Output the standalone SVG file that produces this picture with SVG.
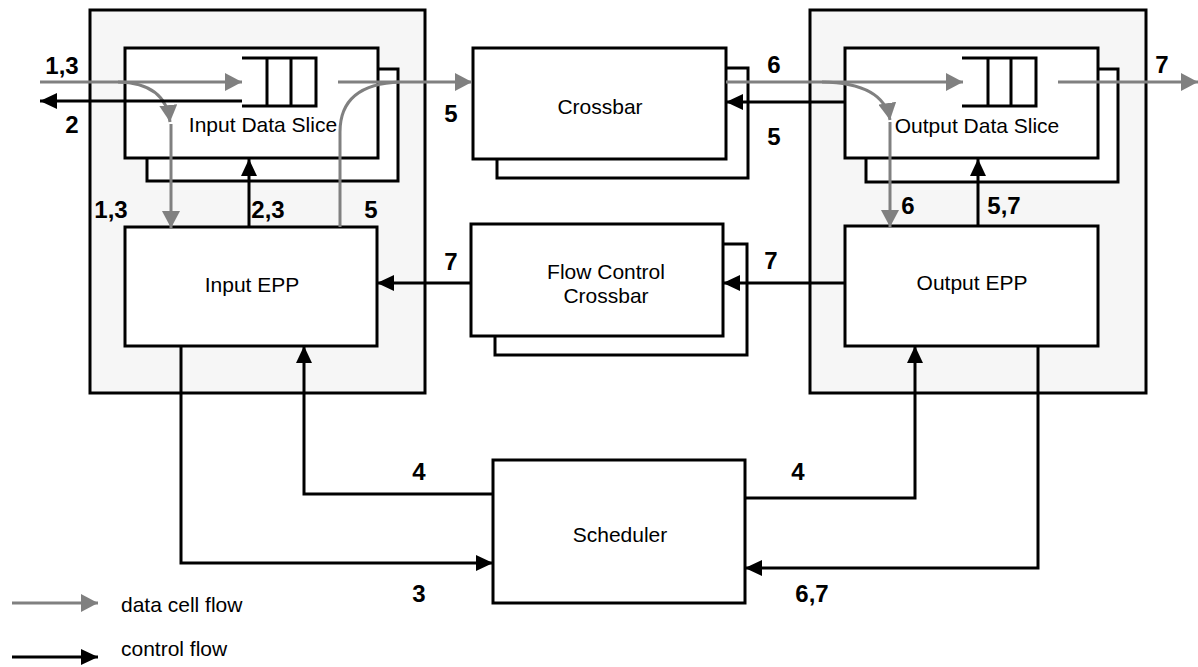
<svg xmlns="http://www.w3.org/2000/svg" width="1198" height="667" viewBox="0 0 1198 667">
<style>
.panel{fill:#f6f6f6;stroke:#000;stroke-width:3}
.box{fill:#fff;stroke:#000;stroke-width:3}
.q{fill:none;stroke:#000;stroke-width:3}
.lbl{font-family:"Liberation Sans",Arial,sans-serif;font-size:21px;fill:#000;text-anchor:middle}
.num{font-family:"Liberation Sans",Arial,sans-serif;font-size:24px;font-weight:bold;fill:#000;text-anchor:middle}
.leg{font-family:"Liberation Sans",Arial,sans-serif;font-size:21px;fill:#000}
.ctl{fill:none;stroke:#000;stroke-width:3;marker-end:url(#ah)}
.ctln{fill:none;stroke:#000;stroke-width:3}
.dat{fill:none;stroke:#808080;stroke-width:3;marker-end:url(#gh)}
.datn{fill:none;stroke:#808080;stroke-width:3}
</style>
<defs>
<marker id="ah" markerUnits="userSpaceOnUse" markerWidth="17" markerHeight="16" refX="17" refY="8" orient="auto">
<path d="M0,0 L17,8 L0,16 z" fill="#000"/>
</marker>
<marker id="gh" markerUnits="userSpaceOnUse" markerWidth="17" markerHeight="18" refX="17" refY="9" orient="auto">
<path d="M0,0 L17,9 L0,18 z" fill="#808080"/>
</marker>
</defs>
<rect width="1198" height="667" fill="#fff"/>

<g id="input-panel">
<rect class="panel" x="90" y="10" width="335" height="383"/>
</g>
<g id="output-panel">
<rect class="panel" x="810" y="10" width="336" height="383"/>
</g>

<g id="input-data-slice">
<rect class="box" x="147" y="69" width="251" height="112"/>
<rect class="box" x="125" y="48" width="253" height="110"/>
<path class="q" d="M242,58 H316 V106 H242 M267,58 V106 M291,58 V106"/>
<text class="lbl" x="263" y="132">Input Data Slice</text>
</g>

<g id="crossbar">
<rect class="box" x="497" y="68" width="251" height="110"/>
<rect class="box" x="473" y="48" width="253" height="111"/>
<text class="lbl" x="600" y="114">Crossbar</text>
</g>

<g id="output-data-slice">
<rect class="box" x="866" y="69" width="252" height="113"/>
<rect class="box" x="845" y="48" width="253" height="110"/>
<path class="q" d="M962,58 H1036 V106 H962 M988,58 V106 M1011,58 V106"/>
<text class="lbl" x="977" y="133">Output Data Slice</text>
</g>

<g id="input-epp">
<rect class="box" x="125" y="227" width="252" height="119"/>
<text class="lbl" x="252" y="292">Input EPP</text>
</g>

<g id="flow-control-crossbar">
<rect class="box" x="495" y="244" width="252" height="111"/>
<rect class="box" x="471" y="224" width="252" height="112"/>
<text class="lbl" x="606" y="279">Flow Control</text>
<text class="lbl" x="606" y="303">Crossbar</text>
</g>

<g id="output-epp">
<rect class="box" x="845" y="226" width="253" height="120"/>
<text class="lbl" x="972" y="290">Output EPP</text>
</g>

<g id="scheduler">
<rect class="box" x="493" y="460" width="252" height="143"/>
<text class="lbl" x="620" y="542">Scheduler</text>
</g>

<g id="connectors">
<!-- data flows -->
<path class="dat" d="M40,82 H242"/>
<path class="dat" d="M118,82 Q166,83 170,122"/>
<path class="dat" d="M171,124 V228"/>
<path class="datn" d="M340,227 V132 Q340,84 400,82"/>
<path class="dat" d="M338,82 H472"/>
<path class="dat" d="M726,82 H963"/>
<path class="dat" d="M822,82 Q884,83 890,120"/>
<path class="dat" d="M890,122 V227"/>
<path class="dat" d="M1058,82 H1198"/>
<!-- control flows -->
<path class="ctl" d="M242,101 H40"/>
<path class="ctl" d="M249,227 V159"/>
<path class="ctl" d="M845,102 H726"/>
<path class="ctl" d="M978,226 V159"/>
<path class="ctl" d="M471,283 H377"/>
<path class="ctl" d="M845,283 H723"/>
<path class="ctl" d="M181,346 V563 H493"/>
<path class="ctl" d="M493,494 H304 V346"/>
<path class="ctl" d="M745,498 H915 V346"/>
<path class="ctl" d="M1038,346 V568 H745"/>
</g>

<g id="labels">
<text class="num" x="62" y="74">1,3</text>
<text class="num" x="72" y="133">2</text>
<text class="num" x="111" y="218">1,3</text>
<text class="num" x="268" y="218">2,3</text>
<text class="num" x="371" y="218">5</text>
<text class="num" x="451" y="122">5</text>
<text class="num" x="774" y="73">6</text>
<text class="num" x="774" y="145">5</text>
<text class="num" x="1162" y="73">7</text>
<text class="num" x="908" y="214">6</text>
<text class="num" x="1004" y="214">5,7</text>
<text class="num" x="451" y="270">7</text>
<text class="num" x="771" y="269">7</text>
<text class="num" x="419" y="480">4</text>
<text class="num" x="419" y="602">3</text>
<text class="num" x="798" y="480">4</text>
<text class="num" x="812" y="602">6,7</text>
</g>

<g id="legend">
<path class="dat" d="M12,603 H98"/>
<text class="leg" x="121" y="612">data cell flow</text>
<path class="ctl" d="M12,657 H98"/>
<text class="leg" x="121" y="656">control flow</text>
</g>
</svg>
